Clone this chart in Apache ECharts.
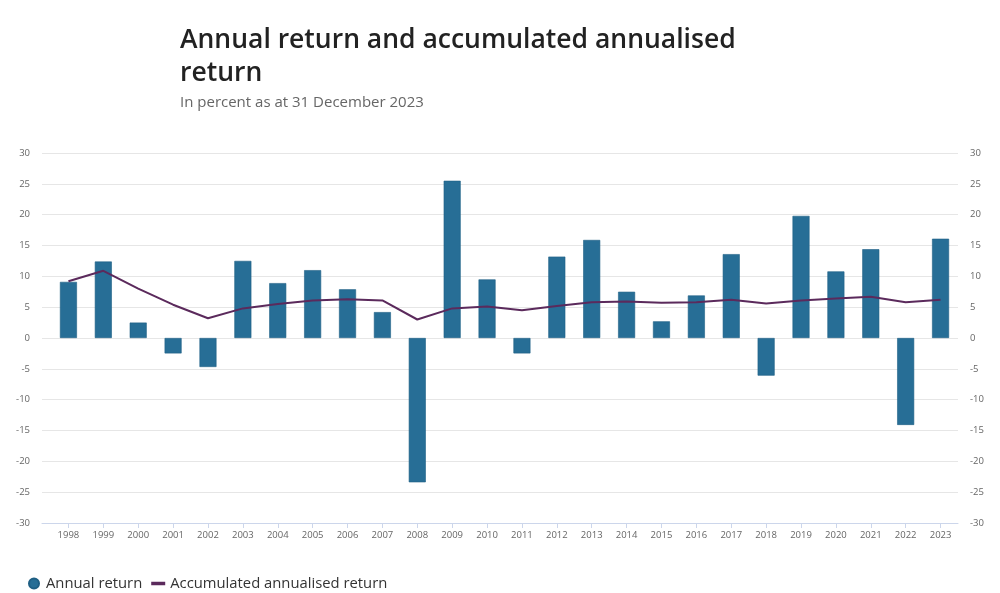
<!DOCTYPE html>
<html>
<head>
<meta charset="utf-8">
<script src="https://cdn.jsdelivr.net/npm/echarts@6/dist/echarts.min.js"></script>
<style>
html,body{margin:0;padding:0;background:#fff;}
#chart{width:1000px;height:593px;}
</style>
</head>
<body>
<div id="chart"></div>
<script>
const years = ['1998','1999','2000','2001','2002','2003','2004','2005','2006','2007','2008','2009','2010','2011','2012','2013','2014','2015','2016','2017','2018','2019','2020','2021','2022','2023'];
const annualReturn = [9.1,12.4,2.5,-2.5,-4.7,12.5,8.9,11.0,7.9,4.2,-23.4,25.5,9.5,-2.5,13.2,15.9,7.5,2.7,6.9,13.6,-6.1,19.8,10.8,14.4,-14.1,16.1];
const accumulated = [9.2,10.9,8.0,5.4,3.2,4.8,5.5,6.1,6.3,6.1,3.0,4.8,5.1,4.5,5.2,5.8,5.9,5.7,5.8,6.2,5.6,6.1,6.4,6.7,5.8,6.2];
const yMin = -30, yMax = 30, yStep = 5;

const chart = echarts.init(document.getElementById('chart'), null, {renderer:'canvas'});
const font = '"Open Sans", Lato, sans-serif';
chart.setOption({
  animation:false,
  backgroundColor:'#ffffff',
  textStyle:{fontFamily:font},
  title:{
    text:'Annual return and accumulated annualised\nreturn',
    subtext:'In percent as at 31 December 2023',
    left:175, top:19,
    itemGap:5,
    textStyle:{fontFamily:font, fontSize:26.5, fontWeight:600, color:'#222222', lineHeight:33},
    subtextStyle:{fontFamily:font, fontSize:15, color:'#666666'}
  },
  legend:{
    left:23, top:571,
    itemGap:9, itemWidth:14, itemHeight:10,
    textStyle:{fontFamily:font, fontSize:14.8, color:'#333333'},
    data:[
      {name:'Annual return', icon:'circle'},
      {name:'Accumulated annualised return', icon:'path://M0,0 H16 V4 H0 Z'}
    ]
  },
  grid:[
    {left:51, right:42, top:153, bottom:70},
    {left:42, right:42, top:153, bottom:70}
  ],
  xAxis:[
    {type:'category', gridIndex:0, data:years,
      axisLine:{show:false, onZero:false},
      axisTick:{show:true, alignWithLabel:true, length:5, lineStyle:{color:'#ccd6eb'}},
      axisLabel:{color:'#666666', fontSize:9.5, margin:7}},
    {type:'value', gridIndex:1, min:0, max:1, show:true,
      axisLine:{show:true, onZero:false, lineStyle:{color:'#ccd6eb'}},
      axisTick:{show:false}, axisLabel:{show:false}, splitLine:{show:false}}
  ],
  yAxis:[
    {type:'value', gridIndex:0, min:yMin, max:yMax, interval:yStep, show:false, splitLine:{show:false}},
    {type:'value', gridIndex:1, min:yMin, max:yMax, interval:yStep, position:'left',
      axisLine:{show:false}, axisTick:{show:false},
      axisLabel:{color:'#666666', fontSize:9.5, margin:12},
      splitLine:{show:true, lineStyle:{color:'#e6e6e6', width:1}}},
    {type:'value', gridIndex:1, min:yMin, max:yMax, interval:yStep, position:'right',
      axisLine:{show:false}, axisTick:{show:false},
      axisLabel:{color:'#666666', fontSize:9.5, margin:12},
      splitLine:{show:false}}
  ],
  series:[
    {name:'Annual return', type:'bar', xAxisIndex:0, yAxisIndex:0, data:annualReturn,
      barWidth:17, itemStyle:{color:'#276e96', borderColor:'#1f5f84', borderWidth:0.6}},
    {name:'Accumulated annualised return', type:'line', xAxisIndex:0, yAxisIndex:0, data:accumulated,
      showSymbol:false, symbol:'none', lineStyle:{color:'#5b2a5c', width:2}, itemStyle:{color:'#5b2a5c'}}
  ]
});
</script>
</body>
</html>
